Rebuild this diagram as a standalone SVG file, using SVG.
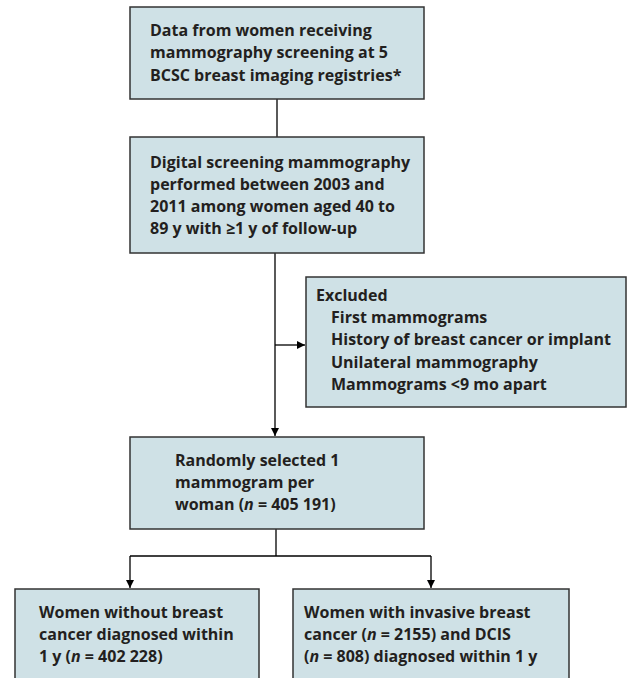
<svg xmlns="http://www.w3.org/2000/svg" width="627" height="678" viewBox="0 0 627 678">
<style>
.box{fill:#cfe1e6;stroke:#333333;stroke-width:1.5}
.t{font-family:"Open Sans","Liberation Sans",sans-serif;font-size:16px;font-weight:700;fill:#231f20}
.ln{fill:none;stroke:#000;stroke-width:1.3}
</style>
<defs>
<marker id="ah" viewBox="0 0 10 10" refX="10" refY="5" markerWidth="9" markerHeight="8" markerUnits="userSpaceOnUse" orient="auto">
<path d="M0,0 L10,5 L0,10 Z" fill="#000"/>
</marker>
</defs>
<rect width="627" height="678" fill="#fff"/>
<g id="connectors">
<line class="ln" x1="277" y1="99" x2="277" y2="137"/>
<line class="ln" x1="275" y1="253" x2="275" y2="436" marker-end="url(#ah)"/>
<line class="ln" x1="275" y1="345" x2="305" y2="345" marker-end="url(#ah)"/>
<polyline class="ln" points="276,529 276,556"/>
<polyline class="ln" points="130,556 431,556"/>
<line class="ln" x1="130" y1="556" x2="130" y2="588" marker-end="url(#ah)"/>
<line class="ln" x1="431" y1="556" x2="431" y2="588" marker-end="url(#ah)"/>
</g>
<g id="n1">
<rect class="box" x="130" y="7" width="294" height="92"/>
<text class="t"><tspan x="150" y="36">Data from women receiving</tspan><tspan x="150" y="58">mammography screening at 5</tspan><tspan x="150" y="81">BCSC breast imaging registries*</tspan></text>
</g>
<g id="n2">
<rect class="box" x="130" y="137" width="294" height="116"/>
<text class="t"><tspan x="150" y="168">Digital screening mammography</tspan><tspan x="150" y="190">performed between 2003 and</tspan><tspan x="150" y="212">2011 among women aged 40 to</tspan><tspan x="150" y="234">89 y with ≥1 y of follow-up</tspan></text>
</g>
<g id="n3">
<rect class="box" x="306" y="277" width="320" height="130"/>
<text class="t"><tspan x="316" y="301">Excluded</tspan><tspan x="331" y="323">First mammograms</tspan><tspan x="331" y="345">History of breast cancer or implant</tspan><tspan x="331" y="368">Unilateral mammography</tspan><tspan x="331" y="390">Mammograms &lt;9 mo apart</tspan></text>
</g>
<g id="n4">
<rect class="box" x="130" y="437" width="294" height="92"/>
<text class="t"><tspan x="175" y="466">Randomly selected 1</tspan><tspan x="175" y="488">mammogram per</tspan><tspan x="175" y="510">woman (<tspan font-style="italic">n</tspan> = 405 191)</tspan></text>
</g>
<g id="n5">
<rect class="box" x="15" y="589" width="244" height="100"/>
<text class="t"><tspan x="39" y="618">Women without breast</tspan><tspan x="39" y="640">cancer diagnosed within</tspan><tspan x="39" y="662">1 y (<tspan font-style="italic">n</tspan> = 402 228)</tspan></text>
</g>
<g id="n6">
<rect class="box" x="293" y="589" width="276" height="100"/>
<text class="t"><tspan x="304" y="618">Women with invasive breast</tspan><tspan x="304" y="640">cancer (<tspan font-style="italic">n</tspan> = 2155) and DCIS</tspan><tspan x="304" y="662">(<tspan font-style="italic">n</tspan> = 808) diagnosed within 1 y</tspan></text>
</g>
</svg>
